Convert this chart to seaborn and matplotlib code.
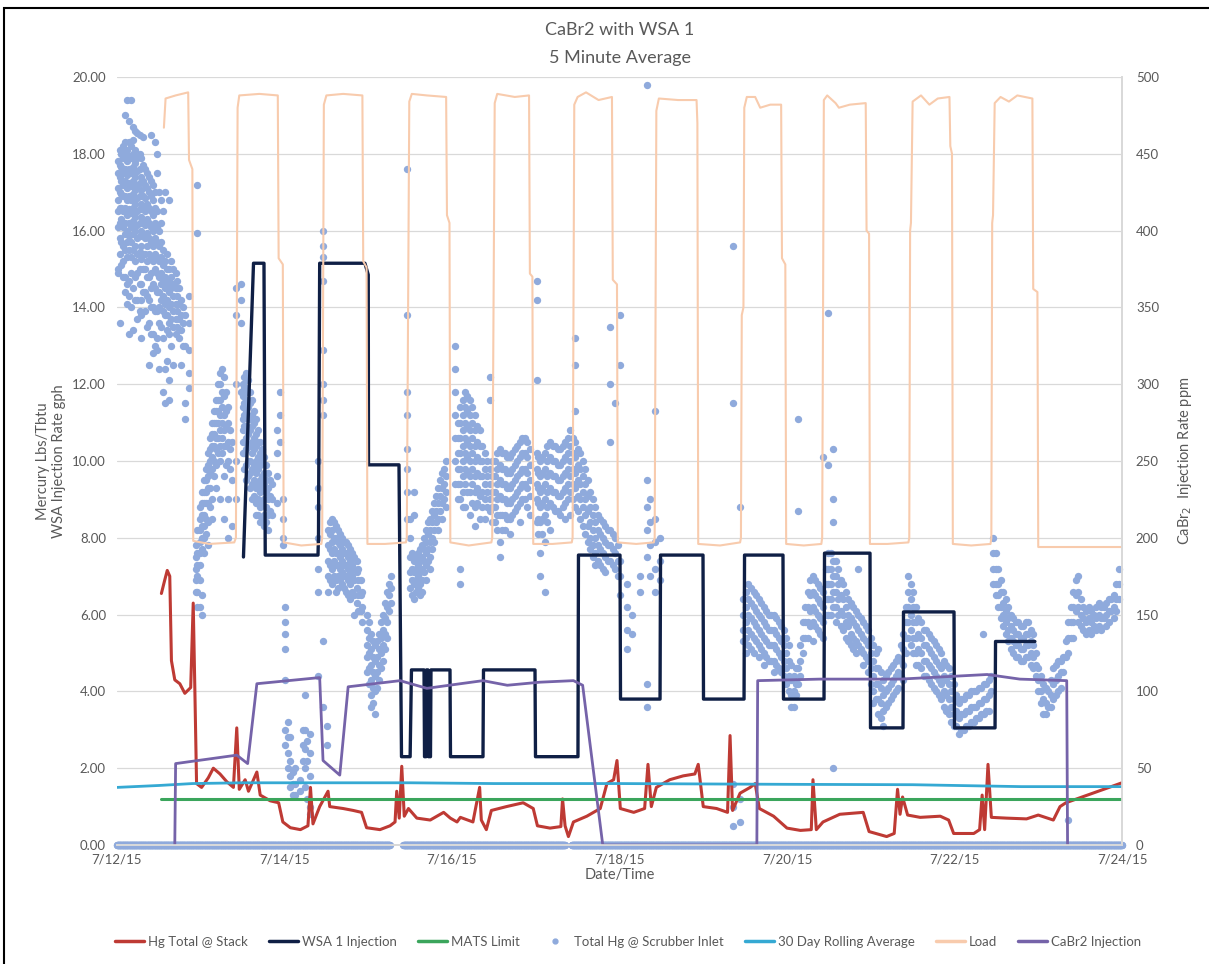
import numpy as np
import pandas as pd
import matplotlib
matplotlib.use("Agg")
import matplotlib.pyplot as plt
import seaborn as sns
from matplotlib.lines import Line2D
from matplotlib.patches import Rectangle

# x values are days of July 2015 (12.0 = 7/12/15 00:00)
tick_days = [12, 14, 16, 18, 20, 22, 24]
tick_labels = ["7/12/15", "7/14/15", "7/16/15", "7/18/15", "7/20/15", "7/22/15", "7/24/15"]

# Hg Total @ Stack (lbs/Tbtu)
stack_t = [12.53, 12.57, 12.60, 12.63, 12.65, 12.69, 12.75, 12.81, 12.88, 12.91, 12.93, 12.95,
           13.01, 13.09, 13.15, 13.23, 13.31, 13.39, 13.43, 13.46, 13.53, 13.57, 13.67, 13.71,
           13.83, 13.93, 13.98, 14.07, 14.19, 14.28, 14.31, 14.34, 14.42, 14.52, 14.54, 14.70,
           14.82, 14.92, 14.98, 15.14, 15.26, 15.32, 15.34, 15.37, 15.40, 15.43, 15.48, 15.58,
           15.74, 15.90, 15.98, 16.06, 16.10, 16.25, 16.33, 16.35, 16.41, 16.47, 16.65, 16.85,
           16.97, 17.02, 17.17, 17.30, 17.32, 17.35, 17.39, 17.45, 17.61, 17.77, 17.85, 17.93,
           17.97, 18.01, 18.17, 18.30, 18.34, 18.38, 18.44, 18.60, 18.76, 18.90, 18.94, 19.00,
           19.16, 19.29, 19.32, 19.35, 19.44, 19.56, 19.62, 19.67, 19.84, 20.00, 20.16, 20.29,
           20.31, 20.35, 20.43, 20.63, 20.91, 20.98, 21.19, 21.28, 21.32, 21.35, 21.38, 21.44,
           21.59, 21.83, 21.93, 21.99, 22.23, 22.30, 22.33, 22.36, 22.40, 22.44, 22.62, 22.86,
           23.00, 23.18, 23.26, 23.33, 24.00]
stack_v = [6.55, 6.9, 7.15, 7.0, 4.8, 4.3, 4.2, 3.95, 4.1, 6.3, 4.0, 1.6,
           1.5, 1.75, 2.0, 1.85, 1.65, 1.5, 3.05, 1.45, 1.7, 1.4, 1.9, 1.3,
           1.15, 1.1, 0.6, 0.45, 0.4, 0.5, 1.5, 0.55, 1.0, 1.4, 1.0, 0.95,
           0.9, 0.85, 0.45, 0.4, 0.5, 0.6, 1.4, 0.7, 2.05, 0.75, 0.95, 0.7,
           0.65, 0.85, 0.7, 0.6, 0.72, 0.6, 1.5, 0.65, 0.4, 0.9, 1.0, 1.1,
           0.95, 0.5, 0.44, 0.48, 1.2, 0.5, 0.22, 0.6, 0.75, 0.95, 1.6, 1.7,
           2.2, 0.95, 0.85, 0.95, 2.1, 1.0, 1.5, 1.7, 1.8, 1.85, 2.1, 1.0,
           0.95, 0.85, 2.85, 0.9, 1.35, 1.5, 1.6, 0.95, 0.75, 0.44, 0.38, 0.4,
           1.7, 0.4, 0.6, 0.8, 0.85, 0.35, 0.22, 0.3, 1.45, 0.8, 1.25, 0.78,
           0.72, 0.75, 0.65, 0.3, 0.3, 0.4, 1.3, 0.4, 2.1, 0.72, 0.7, 0.68,
           0.78, 0.65, 1.0, 1.1, 1.62]

# WSA 1 Injection (gph)
wsa_t = [13.51, 13.63, 13.755, 13.77, 14.40, 14.406, 14.42, 14.96, 15.0, 15.003, 15.367, 15.397,
         15.50, 15.516, 15.666, 15.672, 15.69, 15.696, 15.713, 15.719, 15.743, 15.749, 15.976, 15.982,
         16.37, 16.376, 16.991, 16.997, 17.504, 17.51, 18.006, 18.012, 18.484, 18.49, 18.997, 19.003,
         19.487, 19.493, 19.952, 19.958, 20.442, 20.448, 20.991, 20.997, 21.385, 21.391, 21.994, 22.0,
         22.484, 22.49, 22.96]
wsa_v = [7.5, 15.15, 15.15, 7.55, 7.55, 8.05, 15.15, 15.15, 14.85, 9.9, 9.9, 2.3,
         2.3, 4.56, 4.56, 2.3, 2.3, 4.56, 4.56, 2.3, 2.3, 4.56, 4.56, 2.3,
         2.3, 4.56, 4.56, 2.3, 2.3, 7.55, 7.55, 3.8, 3.8, 7.55, 7.55, 3.8,
         3.8, 7.55, 7.55, 3.8, 3.8, 7.6, 7.6, 3.05, 3.05, 6.07, 6.07, 3.05,
         3.05, 5.3, 5.3]

# MATS Limit
mats_t = [12.53, 24.0]
mats_v = [1.2, 1.2]

# 30 Day Rolling Average
roll_t = [12.0, 12.5, 12.9, 13.5, 15.5, 16.5, 18.0, 20.0, 21.5, 22.8, 24.0]
roll_v = [1.5, 1.55, 1.6, 1.62, 1.62, 1.6, 1.6, 1.58, 1.57, 1.52, 1.52]

# Load (right axis)
load_t = [12.56, 12.58, 12.70, 12.85, 12.86, 12.90, 12.91, 13.10, 13.40,
          13.42, 13.44, 13.46, 13.70, 13.92, 13.93, 13.98, 13.99, 14.20, 14.44,
          14.45, 14.47, 14.50, 14.70, 14.93, 14.94, 14.98, 14.99, 15.20, 15.45,
          15.46, 15.49, 15.52, 15.70, 15.93, 15.94, 15.97, 15.98, 16.20, 16.47,
          16.48, 16.51, 16.54, 16.75, 16.92, 16.93, 16.96, 16.97, 17.20, 17.43,
          17.44, 17.46, 17.50, 17.60, 17.75, 17.91, 17.92, 17.97, 17.98, 18.20, 18.41,
          18.42, 18.44, 18.47, 18.70, 18.92, 18.93, 18.94, 19.20, 19.44,
          19.45, 19.46, 19.48, 19.49, 19.52, 19.62, 19.68, 19.80, 19.93, 19.94, 19.98, 19.99, 20.20, 20.41,
          20.42, 20.44, 20.48, 20.58, 20.62, 20.75, 20.94, 20.95, 20.98, 20.99, 21.20, 21.45,
          21.46, 21.47, 21.48, 21.50, 21.60, 21.70, 21.80, 21.94, 21.95, 21.97, 21.98, 22.20, 22.43,
          22.44, 22.45, 22.46, 22.48, 22.55, 22.65, 22.75, 22.93, 22.94, 22.99, 23.00, 23.50, 24.00]
load_v = [467, 486, 488, 490, 446, 440, 198, 196, 197,
          200, 480, 488, 489, 488, 382, 378, 197, 195, 196,
          200, 482, 488, 489, 488, 380, 376, 196, 196, 197,
          200, 484, 489, 488, 487, 410, 405, 197, 195, 197,
          200, 483, 489, 487, 488, 372, 370, 196, 196, 197,
          200, 482, 487, 490, 485, 487, 368, 365, 197, 196, 197,
          200, 478, 486, 485, 485, 470, 196, 195, 197,
          200, 345, 350, 480, 487, 487, 480, 482, 482, 382, 378, 196, 195, 196,
          200, 485, 488, 483, 480, 482, 483, 400, 398, 196, 196, 197,
          200, 400, 405, 484, 488, 482, 486, 487, 455, 450, 196, 195, 196,
          200, 405, 410, 483, 487, 484, 488, 486, 362, 360, 194, 194, 194]

# CaBr2 Injection (ppm, right axis)
cabr_t = [12.69, 12.70, 13.43, 13.56, 13.67, 14.42, 14.46, 14.66, 14.76, 15.38, 15.70, 16.10,
          16.37, 16.66, 17.05, 17.45, 17.56, 17.80, 19.64, 19.65, 20.39, 21.35, 22.39, 22.78,
          23.34, 23.35]
cabr_v = [0, 53, 58.5, 53, 105, 109, 55, 45.5, 103, 107, 102, 105,
          107, 104, 106, 107, 104, 0, 0, 107, 108, 108, 111, 108,
          107, 0]

# Total Hg @ Scrubber Inlet: (day, values read at that time)
inlet_cols = [
    (12.01, [17.8, 17.5, 17.1, 16.8, 16.5, 16.1, 15.0, 14.9]),
    (12.03, [18.1, 17.7, 17.4, 17.0, 16.6, 16.2, 15.8, 15.4, 13.6]),
    (12.05, [18.0, 17.65, 17.3, 16.95, 16.6, 16.3, 15.7, 15.1]),
    (12.07, [18.2, 17.9, 17.5, 17.2, 16.9, 16.5, 16.1, 15.6, 15.2, 14.8]),
    (12.10, [19.0, 18.3, 18.0, 17.6, 17.3, 16.9, 16.6, 16.2, 15.9, 15.5, 14.8, 14.4]),
    (12.12, [19.4, 18.1, 17.8, 17.45, 17.1, 16.8, 16.4, 16.0, 15.7, 15.3, 14.6, 14.1]),
    (12.14, [18.85, 18.3, 17.95, 17.6, 17.25, 16.9, 16.55, 16.2, 15.85, 15.5, 14.7, 14.3, 13.3]),
    (12.17, [19.4, 18.2, 17.9, 17.5, 17.15, 16.8, 16.45, 16.1, 15.7, 15.3, 14.9, 14.0]),
    (12.19, [18.7, 18.35, 18.0, 17.65, 17.3, 16.95, 16.6, 16.25, 15.9, 15.5, 14.5, 13.4]),
    (12.22, [18.6, 18.1, 17.75, 17.4, 17.05, 16.7, 16.35, 16.0, 15.6, 15.2, 14.8, 14.2]),
    (12.24, [18.55, 17.9, 17.55, 17.2, 16.85, 16.5, 16.15, 15.8, 15.4, 14.9, 14.2, 13.7]),
    (12.27, [18.5, 18.0, 17.6, 17.25, 16.9, 16.55, 16.2, 15.85, 15.45, 15.0, 14.6, 13.9]),
    (12.29, [17.9, 17.4, 17.05, 16.7, 16.35, 16.0, 15.6, 15.25, 14.6, 14.2, 13.8, 13.2]),
    (12.31, [18.45, 17.7, 17.3, 16.9, 16.55, 16.2, 15.85, 15.4, 15.0, 14.4]),
    (12.33, [17.6, 17.2, 16.85, 16.5, 16.15, 15.8, 15.4, 15.0, 14.4, 13.9]),
    (12.36, [17.5, 17.1, 16.7, 16.3, 15.95, 15.6, 15.2, 14.8, 14.3, 13.5]),
    (12.38, [17.4, 17.0, 16.6, 16.2, 15.8, 15.4, 14.8, 14.2, 13.6, 12.5]),
    (12.40, [18.5, 17.3, 16.9, 16.5, 16.1, 15.7, 15.3, 14.9, 14.5, 14.0, 13.3]),
    (12.43, [17.2, 16.8, 16.4, 16.0, 15.6, 15.2, 14.6, 14.0, 13.3, 12.8]),
    (12.45, [18.3, 17.0, 16.6, 16.2, 15.8, 15.4, 15.0, 14.5, 13.9, 13.0]),
    (12.48, [18.0, 17.5, 16.5, 16.1, 15.7, 15.3, 14.9, 14.4, 13.9, 13.2, 12.9]),
    (12.50, [17.0, 16.0, 15.6, 15.2, 14.8, 14.4, 14.0, 13.6, 12.4]),
    (12.53, [16.8, 16.2, 15.7, 15.3, 14.9, 14.6, 14.2, 13.5]),
    (12.55, [16.5, 15.5, 15.1, 14.7, 14.3, 13.9, 13.2, 11.8]),
    (12.57, [17.0, 15.2, 14.8, 14.5, 14.1, 13.8, 12.4, 11.5]),
    (12.60, [15.4, 15.0, 14.6, 14.2, 13.8, 13.4, 12.6]),
    (12.62, [16.8, 15.0, 14.7, 14.4, 14.0, 13.6, 13.3, 12.1, 11.6]),
    (12.65, [15.2, 14.8, 14.5, 14.1, 13.7, 13.0]),
    (12.67, [15.0, 14.6, 14.3, 13.9, 13.5, 12.5]),
    (12.70, [14.9, 14.5, 14.1, 13.7, 13.3]),
    (12.72, [14.7, 14.3, 13.9, 13.5]),
    (12.74, [14.5, 14.1, 13.7, 13.2]),
    (12.76, [14.2, 13.8, 13.4, 12.5]),
    (12.79, [14.0, 13.6, 13.0]),
    (12.81, [13.8, 13.0, 11.5, 11.1]),
    (12.86, [14.3, 13.6, 12.9, 12.3, 11.9]),
    (12.94, [7.8, 7.5, 7.2, 6.9, 6.6]),
    (12.96, [17.2, 15.95, 8.2, 7.6, 7.3, 7.0, 6.6, 6.2]),
    (12.99, [8.8, 8.5, 8.2, 7.9, 7.6, 7.3, 6.9, 6.2]),
    (13.01, [9.2, 8.9, 8.6, 8.3, 8.0, 7.7, 6.5, 6.0]),
    (13.04, [9.5, 9.2, 8.9, 8.6, 8.3, 8.0, 7.6]),
    (13.06, [9.8, 9.5, 9.2, 8.9, 8.5, 8.1]),
    (13.09, [10.2, 9.9, 9.6, 9.3, 8.9, 8.4, 7.8]),
    (13.11, [10.6, 10.3, 10.0, 9.7, 9.3, 8.8]),
    (13.13, [11.0, 10.7, 10.4, 10.1, 9.8, 9.0, 8.5]),
    (13.16, [11.3, 11.0, 10.7, 10.4, 10.0, 9.6]),
    (13.18, [11.6, 11.3, 11.0, 10.6, 10.3, 9.9, 9.3]),
    (13.20, [12.0, 11.6, 11.3, 11.0, 10.6, 10.2]),
    (13.23, [12.3, 12.0, 11.6, 11.2, 10.8, 10.4, 10.0, 9.0]),
    (13.25, [12.4, 11.8, 11.4, 11.0, 10.6, 10.2]),
    (13.28, [12.2, 11.7, 11.2, 10.8, 10.4, 9.6, 8.5]),
    (13.30, [11.8, 11.3, 10.9, 10.4, 9.9]),
    (13.33, [11.4, 11.0, 10.5, 10.0, 9.0, 8.0]),
    (13.35, [10.8, 10.3, 9.8]),
    (13.37, [10.5, 9.5, 8.3]),
    (13.42, [14.5, 13.8, 12.0, 10.0, 9.0]),
    (13.48, [14.6, 14.2, 13.6, 11.8]),
    (13.50, [12.0, 11.7, 11.4, 11.1, 10.8, 10.5, 10.2]),
    (13.52, [12.2, 11.9, 11.5, 11.2, 10.9, 10.5, 10.2, 9.8]),
    (13.54, [12.3, 11.9, 11.6, 11.3, 10.9, 10.6, 10.3, 9.9, 9.5]),
    (13.56, [12.1, 11.8, 11.4, 11.1, 10.7, 10.4, 10.0, 9.6]),
    (13.59, [11.8, 11.5, 11.1, 10.8, 10.4, 10.0, 9.7, 9.3]),
    (13.61, [11.6, 11.2, 10.9, 10.5, 10.2, 9.8, 9.4, 9.0]),
    (13.63, [11.3, 11.0, 10.6, 10.3, 9.9, 9.5, 9.1]),
    (13.66, [11.1, 10.7, 10.4, 10.0, 9.7, 9.3, 8.9, 8.6]),
    (13.68, [10.8, 10.5, 10.1, 9.8, 9.4, 9.0, 8.6]),
    (13.71, [10.5, 10.2, 9.9, 9.5, 9.2, 8.8, 8.4]),
    (13.73, [10.3, 10.0, 9.6, 9.3, 8.9, 8.5]),
    (13.76, [10.1, 9.7, 9.4, 9.0, 8.6, 8.3]),
    (13.78, [9.9, 9.5, 9.2, 8.8, 8.4]),
    (13.80, [9.7, 9.3, 9.0, 8.6, 8.2]),
    (13.83, [9.5, 9.1, 8.7]),
    (13.85, [9.4, 9.0, 8.6]),
    (13.91, [10.8, 10.2, 9.6, 8.9]),
    (13.95, [11.8, 11.2, 10.5]),
    (13.98, [9.0, 8.5, 8.0, 7.8]),
    (14.01, [6.2, 5.8, 5.5, 5.1, 4.3, 3.0, 2.6]),
    (14.04, [3.2, 2.8, 2.4, 2.0]),
    (14.07, [2.8, 2.2, 1.8, 1.5]),
    (14.10, [1.9, 1.6, 1.3]),
    (14.13, [2.0, 1.6, 1.3]),
    (14.19, [1.7, 1.4]),
    (14.22, [3.0, 2.6, 2.2]),
    (14.24, [3.9, 3.0, 2.5, 2.0, 1.5]),
    (14.27, [2.7, 2.2, 1.2]),
    (14.30, [2.9, 2.4, 1.8, 1.0, 0.8]),
    (14.40, [10.0, 9.3, 8.8, 8.0, 7.2, 6.6, 4.4]),
    (14.46, [16.0, 15.6, 15.3, 14.7, 12.9, 12.0, 11.6, 11.2, 5.3, 3.6]),
    (14.51, [3.1, 2.6]),
    (14.52, [8.2, 7.8, 7.4, 7.0, 6.6]),
    (14.54, [8.4, 8.1, 7.7, 7.3, 6.9]),
    (14.57, [8.5, 8.2, 7.9, 7.6, 7.2, 6.8]),
    (14.59, [8.4, 8.0, 7.7, 7.4, 7.0]),
    (14.61, [8.3, 8.0, 7.6, 7.3, 6.9, 6.6]),
    (14.64, [8.2, 7.9, 7.6, 7.3, 7.0, 6.7]),
    (14.66, [8.1, 7.8, 7.5, 7.2, 6.9]),
    (14.69, [8.0, 7.7, 7.4, 7.1, 6.8]),
    (14.71, [7.9, 7.6, 7.3, 7.0, 6.7]),
    (14.73, [7.9, 7.6, 7.3, 7.0, 6.6]),
    (14.76, [7.8, 7.5, 7.2, 6.9, 6.5]),
    (14.78, [7.7, 7.4, 7.1, 6.8, 6.4]),
    (14.81, [7.6, 7.3, 7.0, 6.6]),
    (14.83, [7.5, 7.2, 6.9, 6.5, 6.0]),
    (14.86, [7.4, 7.1, 6.7, 6.3]),
    (14.88, [7.2, 6.9, 6.5, 6.1]),
    (14.91, [6.9, 6.5, 6.1]),
    (14.93, [6.6, 6.2, 5.8]),
    (14.99, [6.0, 5.6, 5.2, 4.9, 4.5]),
    (15.01, [5.8, 5.4, 5.0, 4.6, 4.2]),
    (15.03, [5.5, 5.1, 4.7, 4.3, 3.9, 3.6]),
    (15.06, [5.3, 4.9, 4.5, 4.1, 3.7]),
    (15.08, [5.2, 4.8, 4.4, 4.0, 3.4]),
    (15.11, [5.3, 4.9, 4.5, 4.1]),
    (15.13, [5.5, 5.1, 4.7, 4.3]),
    (15.15, [5.8, 5.4, 5.0, 4.6]),
    (15.18, [6.0, 5.6, 5.2, 4.8]),
    (15.20, [6.3, 5.9, 5.5, 5.1]),
    (15.22, [6.6, 6.2, 5.8, 5.4]),
    (15.25, [6.8, 6.5, 6.1]),
    (15.27, [7.0, 6.7, 6.3]),
    (15.46, [17.6, 13.8, 11.8, 11.2, 10.3, 9.8, 9.2, 8.5]),
    (15.50, [8.5, 8.0, 7.5, 7.1, 6.7]),
    (15.52, [7.6, 7.2, 6.9, 6.5]),
    (15.55, [9.2, 8.6, 7.4, 7.1, 6.8, 6.4]),
    (15.57, [7.5, 7.2, 6.9, 6.6]),
    (15.59, [7.6, 7.3, 7.0, 6.7]),
    (15.62, [7.7, 7.4, 7.1, 6.8, 6.5]),
    (15.64, [7.8, 7.5, 7.2, 6.9, 6.6]),
    (15.66, [8.0, 7.7, 7.4, 7.1]),
    (15.69, [8.2, 7.9, 7.6, 7.3, 6.9]),
    (15.71, [8.4, 8.1, 7.7, 7.4]),
    (15.74, [8.5, 8.2, 7.9, 7.5, 7.2]),
    (15.76, [8.7, 8.4, 8.0, 7.7]),
    (15.79, [8.9, 8.6, 8.2, 7.9]),
    (15.81, [9.1, 8.7, 8.4]),
    (15.83, [9.3, 8.9, 8.5, 8.2]),
    (15.86, [9.5, 9.1, 8.7]),
    (15.88, [9.7, 9.3, 8.9, 8.5]),
    (15.90, [9.8, 9.4, 9.0]),
    (15.93, [10.0, 9.6, 9.2, 8.8]),
    (16.04, [13.0, 12.4, 11.8, 11.2, 10.6, 10.0, 9.4]),
    (16.07, [11.0, 10.6, 10.2, 9.8, 9.4, 9.0]),
    (16.10, [11.4, 11.0, 10.6, 10.2, 9.8, 9.4, 9.0, 7.2, 6.8]),
    (16.13, [11.6, 11.2, 10.8, 10.4, 10.0, 9.6, 9.2, 8.8]),
    (16.16, [11.8, 11.4, 11.0, 10.6, 10.2, 9.8, 9.4, 8.8]),
    (16.18, [11.7, 11.3, 10.9, 10.5, 10.1, 9.7, 9.2]),
    (16.21, [11.6, 11.2, 10.8, 10.4, 10.0, 9.6, 9.2, 8.6]),
    (16.24, [11.4, 11.0, 10.6, 10.2, 9.8, 9.4, 8.9]),
    (16.27, [11.2, 10.8, 10.4, 10.0, 9.6, 9.2, 8.8, 8.3]),
    (16.30, [10.9, 10.5, 10.1, 9.7, 9.3, 8.9]),
    (16.33, [10.8, 10.4, 10.0, 9.6, 9.1, 8.5]),
    (16.36, [10.4, 10.0, 9.6, 9.2, 8.8]),
    (16.39, [10.2, 9.8, 9.4, 9.0, 8.5]),
    (16.42, [10.0, 9.6, 9.2, 8.8]),
    (16.45, [12.2, 11.6, 9.8, 9.4, 9.0, 8.7]),
    (16.48, [10.0, 9.6, 9.2, 8.8, 8.4]),
    (16.51, [10.0, 9.6, 9.2, 8.8, 8.4]),
    (16.54, [10.2, 9.8, 9.4, 9.0, 8.6, 8.2]),
    (16.57, [10.3, 9.9, 9.5, 9.1, 8.6, 7.9, 7.5]),
    (16.60, [10.2, 9.8, 9.4, 9.0, 8.6, 8.2]),
    (16.63, [10.2, 9.8, 9.4, 9.0, 8.6, 8.2]),
    (16.66, [10.1, 9.7, 9.3, 8.9, 8.5]),
    (16.69, [10.1, 9.7, 9.3, 8.9, 8.5, 8.1]),
    (16.72, [10.2, 9.8, 9.4, 9.0, 8.6]),
    (16.75, [10.3, 9.9, 9.5, 9.1, 8.7]),
    (16.78, [10.4, 10.0, 9.6, 9.2, 8.8]),
    (16.81, [10.5, 10.1, 9.7, 9.3, 8.9, 8.4]),
    (16.84, [10.6, 10.2, 9.8, 9.4, 9.0]),
    (16.87, [10.6, 10.2, 9.8, 9.4, 9.0]),
    (16.90, [10.5, 10.1, 9.7, 9.3, 8.8]),
    (16.93, [10.3, 9.9, 9.5, 9.1, 8.6]),
    (17.01, [14.7, 14.2, 12.1, 10.2, 9.8, 9.4, 9.0, 8.4]),
    (17.03, [10.1, 9.7, 9.3, 8.9, 8.5, 8.1]),
    (17.05, [10.0, 9.6, 9.2, 8.8, 8.4, 7.6, 7.0]),
    (17.08, [10.1, 9.7, 9.3, 8.9, 8.5, 8.1]),
    (17.11, [10.2, 9.8, 9.4, 9.0, 8.6, 7.9, 6.6]),
    (17.14, [10.4, 10.0, 9.6, 9.2, 8.8, 8.4]),
    (17.17, [10.5, 10.1, 9.7, 9.3, 8.9, 8.2]),
    (17.20, [10.4, 10.0, 9.6, 9.2, 8.8]),
    (17.23, [10.4, 10.0, 9.6, 9.2, 8.7]),
    (17.26, [10.3, 9.9, 9.5, 9.1, 8.7]),
    (17.29, [10.3, 9.9, 9.5, 9.1, 8.6]),
    (17.32, [10.4, 10.0, 9.6, 9.2, 8.8]),
    (17.35, [10.5, 10.1, 9.7, 9.3, 8.9, 8.5]),
    (17.38, [10.6, 10.2, 9.8, 9.4, 9.0]),
    (17.41, [10.8, 10.4, 10.0, 9.6, 9.2, 8.6]),
    (17.44, [10.6, 10.2, 9.8, 9.4, 9.0]),
    (17.47, [13.2, 12.5, 11.3, 10.5, 10.1, 9.7, 9.3, 8.8]),
    (17.50, [10.3, 9.9, 9.5, 9.1, 8.7]),
    (17.53, [10.2, 9.8, 9.4, 9.0, 8.5]),
    (17.56, [10.0, 9.6, 9.2, 8.8, 8.3]),
    (17.59, [9.8, 9.4, 9.0, 8.6, 8.1]),
    (17.62, [9.5, 9.1, 8.7, 8.3, 7.9]),
    (17.65, [9.2, 8.8, 8.4, 8.0, 7.7]),
    (17.68, [9.0, 8.6, 8.2, 7.8, 7.5]),
    (17.71, [8.8, 8.4, 8.0, 7.6, 7.3]),
    (17.74, [8.6, 8.2, 7.8, 7.4]),
    (17.77, [8.5, 8.1, 7.7, 7.3]),
    (17.80, [8.4, 8.0, 7.6, 7.2]),
    (17.83, [8.3, 7.9, 7.5, 7.1]),
    (17.86, [8.2, 7.8, 7.4]),
    (17.89, [13.5, 12.0, 10.5, 8.2, 7.8, 7.4]),
    (17.92, [8.1, 7.7, 7.3]),
    (17.95, [11.5, 8.0, 7.6, 7.2]),
    (17.98, [7.8, 7.4, 7.0]),
    (18.01, [13.8, 12.5, 7.4, 7.0, 6.5]),
    (18.09, [6.8, 6.2, 5.6, 5.1]),
    (18.15, [6.0, 5.5]),
    (18.24, [7.0, 6.6]),
    (18.33, [19.8, 9.5, 8.8, 8.2, 7.5, 4.2, 3.6]),
    (18.36, [9.0, 8.4, 7.8, 7.0]),
    (18.42, [11.3, 8.5, 7.9, 7.2, 6.6]),
    (18.48, [8.0, 7.4, 6.9]),
    (19.36, [15.6, 11.5, 1.6, 1.0, 0.5]),
    (19.44, [8.8, 1.2, 0.6]),
    (19.48, [6.4, 6.0, 5.6, 5.3]),
    (19.51, [6.6, 6.2, 5.8, 5.4, 5.0]),
    (19.54, [6.8, 6.4, 6.0, 5.6, 5.2]),
    (19.57, [6.7, 6.3, 5.9, 5.5, 5.1]),
    (19.60, [6.6, 6.2, 5.8, 5.4, 5.0]),
    (19.63, [6.5, 6.1, 5.7, 5.3]),
    (19.66, [6.4, 6.0, 5.6, 5.2, 4.9]),
    (19.69, [6.3, 5.9, 5.5, 5.1]),
    (19.72, [6.2, 5.8, 5.4, 5.0, 4.7]),
    (19.75, [6.1, 5.7, 5.3, 4.9]),
    (19.78, [6.0, 5.6, 5.2, 4.8]),
    (19.81, [6.0, 5.6, 5.2, 4.8]),
    (19.84, [6.0, 5.6, 5.2, 4.8, 4.5]),
    (19.87, [5.9, 5.5, 5.1, 4.7]),
    (19.90, [5.8, 5.4, 5.0, 4.6]),
    (19.93, [5.7, 5.3, 4.9, 4.5]),
    (19.96, [5.6, 5.2, 4.8, 4.4]),
    (19.99, [5.4, 5.0, 4.6, 4.2]),
    (20.02, [5.2, 4.8, 4.4, 4.0]),
    (20.05, [4.7, 4.3, 3.9, 3.6]),
    (20.08, [4.4, 4.0, 3.6]),
    (20.11, [4.6, 4.2, 3.9]),
    (20.13, [11.1, 8.7, 4.6, 4.2]),
    (20.16, [5.2, 4.8, 4.4]),
    (20.19, [5.8, 5.4, 5.0]),
    (20.22, [6.2, 5.8, 5.4]),
    (20.25, [6.6, 6.2, 5.8, 5.4]),
    (20.28, [6.9, 6.5, 6.1, 5.7]),
    (20.31, [7.0, 6.6, 6.2, 5.8, 5.3]),
    (20.34, [6.9, 6.5, 6.1, 5.7]),
    (20.37, [6.8, 6.4, 6.0, 5.6]),
    (20.40, [6.7, 6.3, 5.9, 5.5]),
    (20.43, [10.1, 6.6, 6.2, 5.8, 5.4]),
    (20.46, [7.2, 6.8, 6.4, 6.0]),
    (20.49, [13.85, 9.9, 7.6, 7.2, 6.8, 6.4, 6.0]),
    (20.52, [7.6, 7.2, 6.8, 6.4, 6.0]),
    (20.55, [10.3, 9.0, 8.4, 7.4, 7.0, 6.6, 6.2, 2.0]),
    (20.58, [7.4, 7.0, 6.6, 6.2, 5.8]),
    (20.61, [7.2, 6.8, 6.4, 6.0]),
    (20.64, [6.9, 6.5, 6.1, 5.7]),
    (20.67, [6.8, 6.4, 6.0, 5.6]),
    (20.70, [6.6, 6.2, 5.8, 5.4]),
    (20.73, [6.4, 6.0, 5.7, 5.3]),
    (20.76, [6.3, 5.9, 5.5, 5.2]),
    (20.79, [6.2, 5.8, 5.4, 5.1]),
    (20.82, [6.1, 5.7, 5.3, 5.0]),
    (20.85, [7.2, 6.0, 5.6, 5.2]),
    (20.88, [5.9, 5.5, 5.1]),
    (20.91, [5.8, 5.4, 5.0, 4.7]),
    (20.94, [5.7, 5.3, 4.9]),
    (20.97, [5.6, 5.2, 4.8, 4.5]),
    (21.00, [5.4, 5.0, 4.6, 4.2]),
    (21.03, [5.2, 4.8, 4.4, 4.0, 3.7]),
    (21.06, [5.0, 4.6, 4.2, 3.8]),
    (21.09, [5.1, 4.6, 4.2, 3.8, 3.4]),
    (21.12, [4.5, 4.1, 3.7, 3.3]),
    (21.15, [4.3, 3.9, 3.5, 3.1]),
    (21.18, [4.4, 4.0, 3.6]),
    (21.21, [4.5, 4.1, 3.7]),
    (21.24, [4.6, 4.2, 3.8]),
    (21.27, [4.7, 4.3, 3.9]),
    (21.30, [4.8, 4.4, 4.0]),
    (21.33, [4.9, 4.5, 4.1]),
    (21.36, [5.2, 4.8, 4.4]),
    (21.39, [5.5, 5.1, 4.7, 4.3]),
    (21.42, [6.2, 5.8, 5.4, 5.0]),
    (21.45, [7.0, 6.6, 6.2, 5.8, 5.4]),
    (21.48, [6.8, 6.4, 6.0, 5.6, 5.2]),
    (21.51, [6.6, 6.2, 5.8, 5.4, 5.0]),
    (21.54, [6.2, 5.8, 5.4, 5.0, 4.7]),
    (21.57, [5.9, 5.5, 5.1, 4.7]),
    (21.60, [5.8, 5.4, 5.0, 4.6]),
    (21.63, [5.6, 5.2, 4.8, 4.4]),
    (21.66, [5.6, 5.2, 4.8, 4.4]),
    (21.69, [5.5, 5.1, 4.7, 4.3]),
    (21.72, [5.4, 5.0, 4.6, 4.2]),
    (21.75, [5.3, 4.9, 4.5, 4.1]),
    (21.78, [5.2, 4.8, 4.4, 4.0]),
    (21.81, [5.1, 4.7, 4.3, 3.9]),
    (21.84, [5.0, 4.6, 4.2, 3.8]),
    (21.87, [4.8, 4.4, 4.0, 3.6]),
    (21.90, [4.7, 4.3, 3.9, 3.5]),
    (21.93, [4.6, 4.2, 3.8, 3.4]),
    (21.96, [4.4, 4.0, 3.6, 3.2]),
    (21.99, [4.2, 3.8, 3.4, 3.1]),
    (22.02, [3.9, 3.5, 3.1]),
    (22.05, [3.7, 3.3, 2.9]),
    (22.08, [3.8, 3.4, 3.0]),
    (22.11, [3.8, 3.4, 3.0]),
    (22.14, [3.9, 3.5, 3.1]),
    (22.17, [3.9, 3.5, 3.1]),
    (22.20, [4.0, 3.6, 3.2]),
    (22.23, [4.0, 3.6, 3.2]),
    (22.26, [4.0, 3.6, 3.3]),
    (22.29, [4.1, 3.7, 3.3]),
    (22.32, [4.1, 3.7, 3.4]),
    (22.34, [5.5]),
    (22.35, [4.2, 3.8, 3.4]),
    (22.38, [4.2, 3.8, 3.5]),
    (22.41, [4.3, 3.9, 3.5]),
    (22.44, [4.4, 4.0]),
    (22.46, [8.0, 7.6, 7.2, 6.8]),
    (22.49, [7.6, 7.2, 6.8, 6.5]),
    (22.52, [7.2, 6.8, 6.5, 6.2]),
    (22.55, [6.9, 6.6, 6.2, 5.9]),
    (22.58, [6.6, 6.3, 6.0, 5.7]),
    (22.61, [6.4, 6.1, 5.8, 5.5]),
    (22.64, [6.2, 5.9, 5.6, 5.3]),
    (22.67, [6.0, 5.7, 5.4, 5.1]),
    (22.70, [5.9, 5.6, 5.3, 5.0]),
    (22.73, [5.8, 5.5, 5.2, 4.9]),
    (22.76, [5.8, 5.5, 5.2, 4.9]),
    (22.79, [5.7, 5.4, 5.1, 4.8]),
    (22.82, [5.7, 5.4, 5.1, 4.8]),
    (22.85, [5.8, 5.5, 5.2, 4.9]),
    (22.88, [5.8, 5.5, 5.2, 4.9]),
    (22.91, [5.6, 5.3, 5.0, 4.7]),
    (22.94, [5.5, 5.2, 4.9, 4.6]),
    (22.97, [5.0, 4.7, 4.4]),
    (23.00, [4.6, 4.3, 4.0]),
    (23.03, [4.4, 4.0, 3.7]),
    (23.06, [4.2, 3.8, 3.4]),
    (23.09, [4.1, 3.7, 3.4]),
    (23.12, [4.0, 3.6]),
    (23.15, [4.3, 3.9, 3.6]),
    (23.18, [4.6, 4.2, 3.8]),
    (23.21, [4.7, 4.3, 3.9]),
    (23.24, [4.8, 4.4, 4.0]),
    (23.27, [4.8, 4.5, 4.1]),
    (23.30, [4.9, 4.5]),
    (23.33, [5.3, 4.9]),
    (23.36, [5.8, 5.4, 5.0, 0.65]),
    (23.39, [6.2, 5.8, 5.4]),
    (23.42, [6.6, 6.2, 5.8, 5.4]),
    (23.45, [6.9, 6.5, 6.1]),
    (23.48, [7.0, 6.6, 6.2, 5.8]),
    (23.51, [6.4, 6.0, 5.7]),
    (23.54, [6.2, 5.9, 5.6]),
    (23.57, [6.1, 5.8, 5.5]),
    (23.60, [6.2, 5.9, 5.6]),
    (23.63, [6.1, 5.8, 5.5]),
    (23.66, [6.0, 5.7]),
    (23.69, [6.2, 5.9, 5.6]),
    (23.72, [6.3, 6.0, 5.7]),
    (23.75, [6.2, 5.9, 5.6]),
    (23.78, [6.2, 5.9]),
    (23.81, [6.3, 6.0, 5.7]),
    (23.84, [6.4, 6.1, 5.8]),
    (23.87, [6.4, 6.1]),
    (23.90, [6.5, 6.2, 5.9]),
    (23.93, [6.8, 6.4, 6.1]),
    (23.96, [7.2, 6.8, 6.4]),
]
# stretches where the inlet reading is 0 (5 minute samples)
zero_start = [12.0, 15.42, 17.43]
zero_end = [15.26, 17.35, 24.0]

red = "#BE3A34"
navy = "#0F1F45"
green = "#3BA55C"
blue = "#8FAADC"
cyan = "#35A9D3"
peach = "#F8CBAD"
purple = "#7563A9"
grey_txt = "#595959"

inlet_t = [t for t, vals in inlet_cols for v in vals]
inlet_v = [v for t, vals in inlet_cols for v in vals]
for a, b in zip(zero_start, zero_end):
    zt = np.arange(a, b, 5 / 1440)
    inlet_t += list(zt)
    inlet_v += [0.0] * len(zt)
inlet = pd.DataFrame({"t": inlet_t, "v": inlet_v})

sns.set_theme(style="white")
plt.rcParams['font.family'] = ['Lato', 'DejaVu Sans']

fig, ax = plt.subplots(figsize=(12.09, 9.64), dpi=100)
fig.subplots_adjust(left=117 / 1209, right=1122 / 1209, bottom=1 - 845 / 964, top=1 - 77 / 964)
ax2 = ax.twinx()

sns.scatterplot(data=inlet, x="t", y="v", ax=ax, color=blue, s=28, linewidth=0, legend=False,
                zorder=2, clip_on=False)
sns.lineplot(x=stack_t, y=stack_v, ax=ax, color=red, linewidth=2.2, estimator=None, sort=False, zorder=3)
sns.lineplot(x=wsa_t, y=wsa_v, ax=ax, color=navy, linewidth=2.4, estimator=None, sort=False, zorder=4)
sns.lineplot(x=mats_t, y=mats_v, ax=ax, color=green, linewidth=2.2, estimator=None, sort=False, zorder=4)
sns.lineplot(x=roll_t, y=roll_v, ax=ax, color=cyan, linewidth=2.0, estimator=None, sort=False, zorder=4)

sns.lineplot(x=load_t, y=load_v, ax=ax2, color=peach, linewidth=1.5, estimator=None, sort=False)
sns.lineplot(x=cabr_t, y=cabr_v, ax=ax2, color=purple, linewidth=2.0, estimator=None, sort=False)

ax.set_xlim(12, 24)
ax.set_xticks(tick_days)
ax.set_xticklabels(tick_labels)
ax.set_ylim(0, 20)
ax.set_yticks(np.arange(0, 21, 2))
ax.set_yticklabels(["%.2f" % v for v in np.arange(0, 21, 2)])
ax2.set_ylim(0, 500)
ax2.set_yticks(range(0, 501, 50))

ax.yaxis.grid(True, color="#d9d9d9", linewidth=0.9)
ax.xaxis.grid(False)
ax2.grid(False)
ax.set_axisbelow(True)

for a in (ax, ax2):
    a.spines["top"].set_visible(False)
    a.spines["left"].set_visible(False)
    a.spines["bottom"].set_color("#d9d9d9")
    a.spines["right"].set_color("#d9d9d9")
    a.tick_params(length=0, labelsize=9.5, labelcolor=grey_txt)
ax.tick_params(axis="x", pad=6)
ax.tick_params(axis="y", pad=8)
ax2.tick_params(axis="y", pad=10)

ax.set_xlabel("Date/Time", fontsize=10.5, color=grey_txt, labelpad=2)
ax.set_ylabel("Mercury Lbs/Tbtu\nWSA Injection Rate gph", fontsize=10.5, color=grey_txt, labelpad=4)
ax2.set_ylabel("CaBr$_2$  Injection Rate ppm", fontsize=10.5, color=grey_txt, labelpad=12)

fig.text(620 / 1209, 1 - 30 / 964, "CaBr2 with WSA 1", ha="center", va="center", fontsize=13, color=grey_txt)
fig.text(620 / 1209, 1 - 58 / 964, "5 Minute Average", ha="center", va="center", fontsize=13, color=grey_txt)

handles = [
    Line2D([], [], color=red, lw=2.5),
    Line2D([], [], color=navy, lw=2.5),
    Line2D([], [], color=green, lw=2.5),
    Line2D([], [], color=blue, marker="o", ls="", markersize=3.5),
    Line2D([], [], color=cyan, lw=2.5),
    Line2D([], [], color=peach, lw=2.5),
    Line2D([], [], color=purple, lw=2.5),
]
names = ["Hg Total @ Stack", "WSA 1 Injection", "MATS Limit", "Total Hg @ Scrubber Inlet",
         "30 Day Rolling Average", "Load", "CaBr2 Injection"]
leg = fig.legend(handles, names, loc="center", bbox_to_anchor=(628 / 1209, 1 - 942 / 964), ncol=7,
                 frameon=False, fontsize=9.5, handlelength=2.2, handletextpad=0.3, columnspacing=1.6)
for txt in leg.get_texts():
    txt.set_color(grey_txt)

fig.patches.append(Rectangle((4 / 1209, -0.02), 1.1, 1.02 - 8 / 964, transform=fig.transFigure,
                             fill=False, edgecolor="black", linewidth=1.5))

plt.savefig("out.png", dpi=100)
